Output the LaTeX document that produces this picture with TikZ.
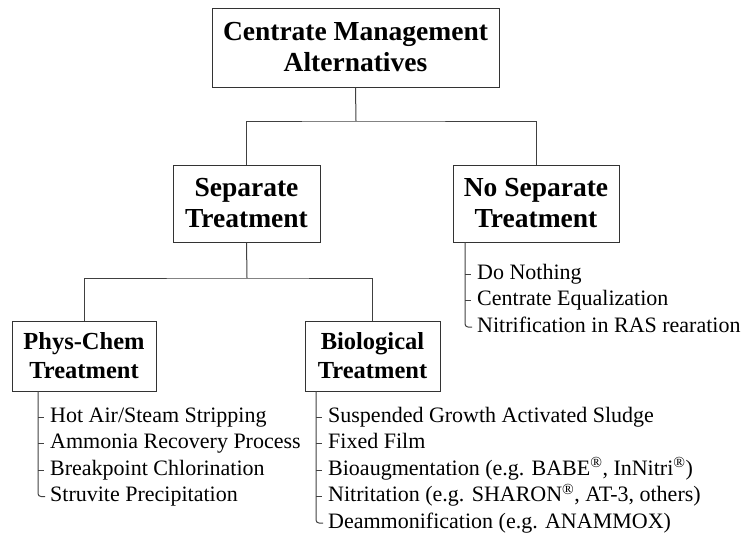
\documentclass[tikz,border=0pt]{standalone}
\usepackage{fontspec}
\setmainfont{Liberation Serif}
\newcommand{\reg}{\textsuperscript{\textregistered}}
\tikzset{
  box/.style={draw=black!80, line width=1pt, align=center, inner sep=0pt,
    font=\fontsize{27.5}{31}\selectfont\bfseries},
  subbox/.style={box, font=\fontsize{24.5}{29}\selectfont\bfseries},
  item/.style={anchor=west, inner sep=0pt, text height=15.5pt, text depth=5pt,
    font=\fontsize{22}{26}\selectfont},
  link/.style={draw=black!75, line width=1pt},
}

\begin{document}
\begin{tikzpicture}[x=1pt, y=-1pt]
  \useasboundingbox (0,0) rectangle (743,533);

  % boxes
  \node[box, minimum width=287pt, minimum height=79pt] (cma) at (355.5,47.5)
    {Centrate Management\\Alternatives};
  \node[box, minimum width=147pt, minimum height=77pt] (sep) at (246.5,203.5)
    {Separate\\Treatment};
  \node[box, minimum width=166pt, minimum height=77pt] (nosep) at (536,203.5)
    {No Separate\\Treatment};
  \node[subbox, minimum width=144pt, minimum height=70pt] (phys) at (84,356)
    {Phys-Chem\\Treatment};
  \node[subbox, minimum width=135pt, minimum height=70pt] (bio) at (372.5,356)
    {Biological\\Treatment};

  % tree
  \coordinate (top) at (356,121);
  \coordinate (mid) at (247,278);
  \draw[link] (cma.south) -- (top);
  \draw[link] (sep.north) |- (top) -| (nosep.north);
  \draw[link] (sep.south) -- (mid);
  \draw[link] (phys.north) |- (mid) -| (bio.north);

  % no separate treatment
  \node[item] (nosep1) at (477,274) {Do Nothing};
  \node[item] (nosep2) at (477,300.5) {Centrate Equalization};
  \node[item] (nosep3) at (477,327) {Nitrification in RAS rearation};
  \coordinate (nosepbar) at (465,242);
  \draw[link, rounded corners=3pt] (nosepbar) |- ([xshift=-5pt]nosep3.west);
  \draw[link] (nosepbar |- nosep1.west) -- ([xshift=-6pt]nosep1.west);
  \draw[link] (nosepbar |- nosep2.west) -- ([xshift=-6pt]nosep2.west);

  % phys-chem
  \node[item] (phys1) at (50,417) {Hot Air/Steam Stripping};
  \node[item] (phys2) at (50,443.5) {Ammonia Recovery Process};
  \node[item] (phys3) at (50,470) {Breakpoint Chlorination};
  \node[item] (phys4) at (50,496.5) {Struvite Precipitation};
  \coordinate (physbar) at (38,391);
  \draw[link, rounded corners=3pt] (physbar) |- ([xshift=-5pt]phys4.west);
  \draw[link] (physbar |- phys1.west) -- ([xshift=-6pt]phys1.west);
  \draw[link] (physbar |- phys2.west) -- ([xshift=-6pt]phys2.west);
  \draw[link] (physbar |- phys3.west) -- ([xshift=-6pt]phys3.west);

  % biological
  \node[item] (bio1) at (328,417) {Suspended Growth Activated Sludge};
  \node[item] (bio2) at (328,443.5) {Fixed Film};
  \node[item] (bio3) at (328,470) {Bioaugmentation (e.g. BABE\reg, InNitri\reg)};
  \node[item] (bio4) at (328,496.5) {Nitritation (e.g. SHARON\reg, AT-3, others)};
  \node[item] (bio5) at (328,523) {Deammonification (e.g. ANAMMOX)};
  \coordinate (biobar) at (316,391);
  \draw[link, rounded corners=3pt] (biobar) |- ([xshift=-5pt]bio5.west);
  \draw[link] (biobar |- bio1.west) -- ([xshift=-6pt]bio1.west);
  \draw[link] (biobar |- bio2.west) -- ([xshift=-6pt]bio2.west);
  \draw[link] (biobar |- bio3.west) -- ([xshift=-6pt]bio3.west);
  \draw[link] (biobar |- bio4.west) -- ([xshift=-6pt]bio4.west);
\end{tikzpicture}
\end{document}
